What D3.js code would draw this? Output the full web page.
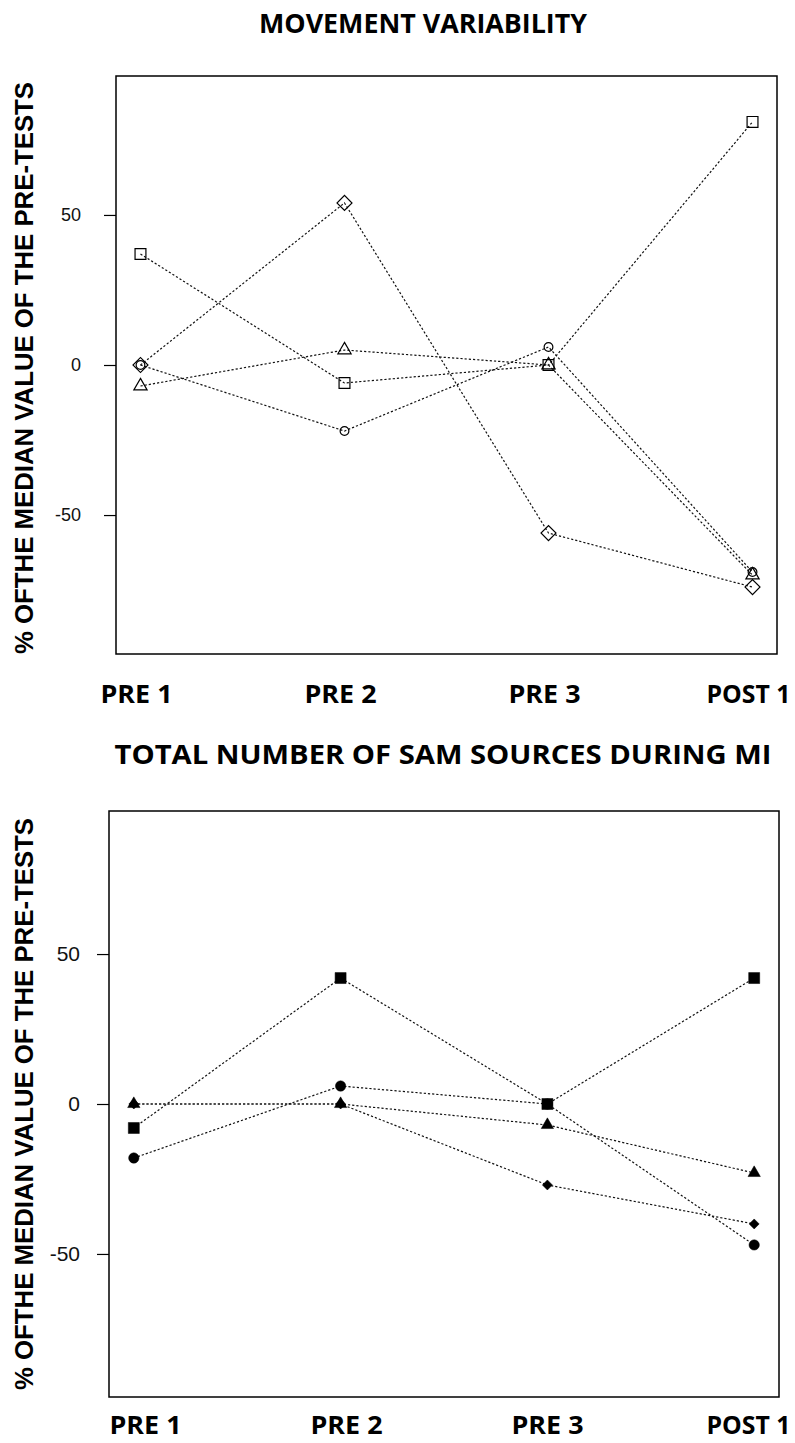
<!DOCTYPE html>
<html>
<head>
<meta charset="utf-8">
<script src="https://cdn.jsdelivr.net/npm/d3@7"></script>
<style>
  html, body { margin: 0; padding: 0; background: #fff; }
  svg { display: block; }
</style>
</head>
<body>
<svg id="chart" width="795" height="1443"></svg>
<script>
// ---------------- DATA ----------------
const categories = ["PRE 1", "PRE 2", "PRE 3", "POST 1"];
const yTicks = [-50, 0, 50];

// Panel 1: MOVEMENT VARIABILITY (open symbols)
const mvSquare   = [37, -6, 0, 81];
const mvCircle   = [0, -22, 6, -69];
const mvTriangle = [-7, 5, 0, -70];
const mvDiamond  = [0, 54, -56, -74];

// Panel 2: TOTAL NUMBER OF SAM SOURCES DURING MI (filled symbols)
const samSquare   = [-8, 42, 0, 42];
const samCircle   = [-18, 6, 0, -47];
const samTriangle = [0, 0, -7, -23];
const samDiamond  = [0, 0, -27, -40];

const titles = ["MOVEMENT VARIABILITY", "TOTAL NUMBER OF SAM SOURCES DURING MI"];
const yLabel = "% OFTHE MEDIAN VALUE OF THE PRE-TESTS";

// ---------------- LAYOUT ----------------
const panels = [
  {
    title: titles[0], titleX: 423, titleY: 33, titleLen: 328,
    box: {l: 116, t: 76, r: 777, b: 654}, yDom: [-96.3, 96.3],
    tickFont: 18, tickRight: 81,
    ylabX: 33, ylabY: 368,
    xlabY: 703, xlabRange: [136, 748],
    filled: false,
    series: [
      {v: mvSquare, shape: "square"},
      {v: mvCircle, shape: "circle"},
      {v: mvTriangle, shape: "triangle"},
      {v: mvDiamond, shape: "diamond"}
    ]
  },
  {
    title: titles[1], titleX: 443, titleY: 764, titleLen: 657,
    box: {l: 109, t: 811, r: 779, b: 1397}, yDom: [-97.7, 97.7],
    tickFont: 21, tickRight: 80,
    ylabX: 33, ylabY: 1104,
    xlabY: 1434, xlabRange: [145, 748],
    filled: true,
    series: [
      {v: samSquare, shape: "square"},
      {v: samCircle, shape: "circle"},
      {v: samTriangle, shape: "triangle"},
      {v: samDiamond, shape: "diamond"}
    ]
  }
];

const svg = d3.select("#chart");

function symbolPath(shape, filled) {
  if (shape === "square") return d3.symbol(d3.symbolSquare, filled ? 121 : 118)();
  if (shape === "circle") return d3.symbol(d3.symbolCircle, filled ? 84 : 60)();
  if (shape === "triangle") return d3.symbol(d3.symbolTriangle, filled ? 66 : 76)();
  if (shape === "diamond") return d3.symbol(d3.symbolSquare, filled ? 50 : 112)();
  return null;
}

panels.forEach(p => {
  const g = svg.append("g");
  const x = d3.scaleLinear().domain([0.88, 4.12]).range([p.box.l, p.box.r]);
  const y = d3.scaleLinear().domain(p.yDom).range([p.box.b, p.box.t]);

  // title
  g.append("text")
    .attr("x", p.titleX).attr("y", p.titleY)
    .attr("text-anchor", "middle")
    .attr("font-family", "'Open Sans', sans-serif")
    .attr("font-weight", 700)
    .attr("font-size", 26)
    .attr("textLength", p.titleLen)
    .attr("lengthAdjust", "spacingAndGlyphs")
    .attr("fill", "#000")
    .text(p.title);

  // y axis
  const yAxis = d3.axisLeft(y).tickValues(yTicks).tickSize(12).tickPadding(4).tickFormat(d3.format("d"));
  const ya = g.append("g").attr("transform", `translate(${p.box.l},0)`).call(yAxis);
  ya.select(".domain").remove();
  ya.selectAll(".tick line").attr("stroke", "#000").attr("stroke-width", 1.2);
  ya.selectAll(".tick text")
    .attr("x", p.tickRight - p.box.l)
    .attr("font-family", "'Liberation Sans', Arial, sans-serif")
    .attr("font-size", p.tickFont)
    .attr("fill", "#111")
    .text(d => d < 0 ? "-" + Math.abs(d) : d);

  // y label
  g.append("text")
    .attr("transform", `translate(${p.ylabX},${p.ylabY}) rotate(-90)`)
    .attr("text-anchor", "middle")
    .attr("font-family", "'Liberation Sans', Arial, sans-serif")
    .attr("font-weight", 700)
    .attr("font-size", 25.5)
    .attr("textLength", 572)
    .attr("lengthAdjust", "spacingAndGlyphs")
    .attr("fill", "#000")
    .text(yLabel);

  // x labels
  const xl = d3.scalePoint().domain(categories).range(p.xlabRange);
  const xAxis = d3.axisBottom(xl).tickSize(0).tickPadding(0);
  const xa = g.append("g").attr("transform", `translate(0,${p.xlabY})`).call(xAxis);
  xa.select(".domain").remove();
  xa.selectAll(".tick text")
    .attr("y", 0).attr("dy", 0)
    .attr("font-family", "'Open Sans', sans-serif")
    .attr("font-weight", 700)
    .attr("font-size", 25)
    .attr("textLength", d => d === "POST 1" ? 84 : 72)
    .attr("lengthAdjust", "spacingAndGlyphs")
    .attr("fill", "#000");

  // lines
  const line = d3.line().x((d, i) => x(i + 1)).y(d => y(d));
  p.series.forEach(s => {
    g.append("path")
      .attr("d", line(s.v))
      .attr("fill", "none")
      .attr("stroke", "#111")
      .attr("stroke-width", 1.2)
      .attr("stroke-dasharray", "2.2,2");
  });

  // markers
  p.series.forEach(s => {
    g.selectAll(null).data(s.v).enter().append("path")
      .attr("d", symbolPath(s.shape, p.filled))
      .attr("transform", (d, i) => `translate(${x(i + 1)},${y(d)})` + (s.shape === "diamond" ? " rotate(45)" : ""))
      .attr("fill", p.filled ? "#000" : "none")
      .attr("stroke", "#000")
      .attr("stroke-width", p.filled ? 0.5 : 1.2);
  });

  // box
  g.append("rect")
    .attr("x", p.box.l).attr("y", p.box.t)
    .attr("width", p.box.r - p.box.l).attr("height", p.box.b - p.box.t)
    .attr("fill", "none").attr("stroke", "#000").attr("stroke-width", 1.5);
});
</script>
</body>
</html>
